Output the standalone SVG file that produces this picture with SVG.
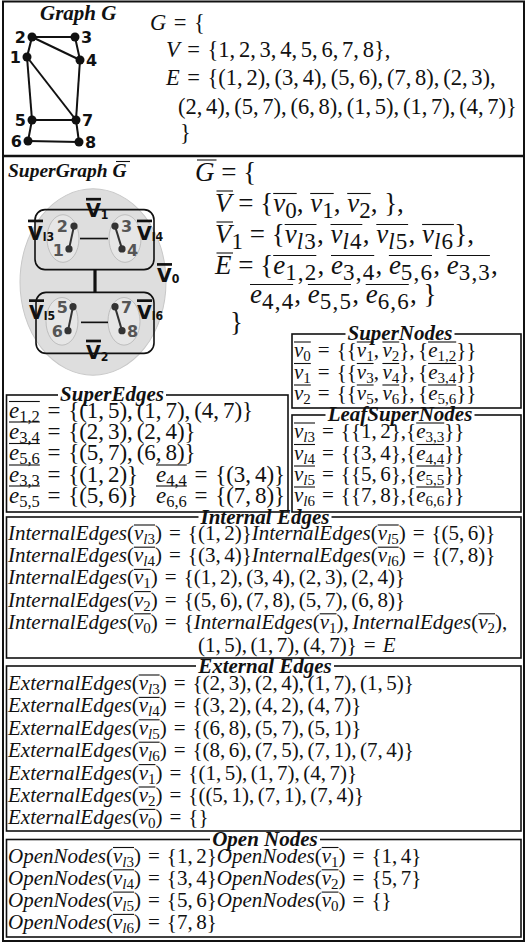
<svg xmlns="http://www.w3.org/2000/svg" width="526" height="943" viewBox="0 0 526 943">
<style>
.m{font-family:"Liberation Serif","Times New Roman",serif;font-size:21px;fill:#111;word-spacing:-1.75px}
.m22{font-size:22.5px;word-spacing:-1.87px}
.m23{font-size:23px;word-spacing:-1.91px}
.m27{font-size:27px;word-spacing:0px}
.i{font-style:italic}
.s{font-size:15px}
.s23{font-size:16.5px}
.s27{font-size:23px}
.sl{letter-spacing:1.2px}
.ttl{font-family:"Liberation Serif",serif;font-weight:bold;font-style:italic;font-size:21px;fill:#111;text-anchor:middle}
.hd{font-family:"Liberation Serif",serif;font-weight:bold;font-style:italic;font-size:21px;fill:#111}
.lb{font-family:"DejaVu Sans",sans-serif;font-weight:bold;font-size:16px;fill:#111}
.gl{font-family:"DejaVu Sans",sans-serif;font-weight:bold;font-size:16px;fill:#555}
.vl{font-family:"DejaVu Sans",sans-serif;font-weight:bold;font-size:19px;fill:#111}
.vs{font-size:11px}
.ol{stroke:#111;stroke-width:1.1;fill:none}
.bar{stroke:#111;stroke-width:2.6}
.bx{fill:none;stroke:#111;stroke-width:1.6}
.ed{stroke:#111;stroke-width:2}
.ged{stroke:#333;stroke-width:2}
.sn{fill:none;stroke:#111;stroke-width:1.6}
.wb{fill:#fff}
</style>
<rect x="0" y="0" width="526" height="943" fill="#fff"/>
<rect x="3" y="1.5" width="521" height="939.5" fill="none" stroke="#111" stroke-width="2"/>
<line x1="3" y1="156" x2="524" y2="156" stroke="#111" stroke-width="2.5"/>

<!-- Graph G -->
<text class="hd" x="40" y="20">Graph G</text>
<g id="graphG-connectors">
<line class="ed" x1="32" y1="37" x2="75" y2="37"/>
<line class="ed" x1="32" y1="37" x2="80" y2="60"/>
<line class="ed" x1="75" y1="37" x2="80" y2="60"/>
<line class="ed" x1="32" y1="37" x2="27" y2="57"/>
<line class="ed" x1="27" y1="57" x2="32" y2="120"/>
<line class="ed" x1="27" y1="57" x2="76" y2="120"/>
<line class="ed" x1="80" y1="60" x2="76" y2="120"/>
<line class="ed" x1="32" y1="120" x2="76" y2="120"/>
<line class="ed" x1="32" y1="120" x2="28" y2="141"/>
<line class="ed" x1="76" y1="120" x2="79" y2="142"/>
<line class="ed" x1="28" y1="141" x2="79" y2="142"/>
</g>
<g id="g-node-2"><circle cx="32" cy="37" r="4.5" fill="#111"/><text class="lb" x="26" y="43" text-anchor="end">2</text></g>
<g id="g-node-3"><circle cx="75" cy="37" r="4.5" fill="#111"/><text class="lb" x="81" y="43">3</text></g>
<g id="g-node-1"><circle cx="27" cy="57" r="4.5" fill="#111"/><text class="lb" x="21" y="63" text-anchor="end">1</text></g>
<g id="g-node-4"><circle cx="80" cy="60" r="4.5" fill="#111"/><text class="lb" x="86" y="66">4</text></g>
<g id="g-node-5"><circle cx="32" cy="120" r="4.5" fill="#111"/><text class="lb" x="26" y="126" text-anchor="end">5</text></g>
<g id="g-node-7"><circle cx="76" cy="120" r="4.5" fill="#111"/><text class="lb" x="82" y="126">7</text></g>
<g id="g-node-6"><circle cx="28" cy="141" r="4.5" fill="#111"/><text class="lb" x="22" y="147" text-anchor="end">6</text></g>
<g id="g-node-8"><circle cx="79" cy="142" r="4.5" fill="#111"/><text class="lb" x="85" y="148">8</text></g>

<g id="graphG-def">
<text class="m m22" x="150" y="30" xml:space="preserve"><tspan class="i">G</tspan>  =  {</text>
<text class="m m22" x="166" y="57" xml:space="preserve"><tspan class="i">V</tspan>  =  {1, 2, 3, 4, 5, 6, 7, 8},</text>
<text class="m m22" x="166" y="85" xml:space="preserve"><tspan class="i">E</tspan>  =  {(1, 2), (3, 4), (5, 6), (7, 8), (2, 3),</text>
<text class="m m22" x="178" y="114" xml:space="preserve">(2, 4), (5, 7), (6, 8), (1, 5), (1, 7), (4, 7)}</text>
<text class="m m22" x="180" y="140">}</text>
</g>

<!-- SuperGraph -->
<text class="hd" x="8" y="177" style="font-size:19.5px">SuperGraph G</text>
<line class="ol" x1="116" y1="161.5" x2="130" y2="161.5" stroke-width="1.5"/>
<g id="supergraph" transform="translate(0,282) scale(1,1.035) translate(0,-273)">
<ellipse cx="93" cy="273" rx="73" ry="90" fill="#dedede" stroke="#c8c8c8" stroke-width="1"/>
<g id="sv-1"><rect class="sn" x="35" y="203" width="119" height="58" rx="10"/></g>
<g id="sv-2"><rect class="sn" x="36" y="283" width="118" height="59" rx="10"/></g>
<g id="sv-l3"><ellipse cx="63" cy="231" rx="16" ry="23" fill="#e6e6e6" stroke="#b5b5b5" stroke-width="0.8"/></g>
<g id="sv-l4"><ellipse cx="125" cy="231" rx="16" ry="23" fill="#e6e6e6" stroke="#b5b5b5" stroke-width="0.8"/></g>
<g id="sv-l5"><ellipse cx="62" cy="311" rx="16" ry="23" fill="#e6e6e6" stroke="#b5b5b5" stroke-width="0.8"/></g>
<g id="sv-l6"><ellipse cx="124" cy="311" rx="16" ry="23" fill="#e6e6e6" stroke="#b5b5b5" stroke-width="0.8"/></g>
<g id="supergraph-connectors">
<line x1="95" y1="261" x2="95" y2="283" stroke="#111" stroke-width="3.2"/>
<line x1="80" y1="231" x2="108" y2="231" stroke="#111" stroke-width="1.6"/>
<line x1="81" y1="312" x2="108" y2="312" stroke="#111" stroke-width="1.6"/>
<line class="ged" x1="74" y1="219" x2="69" y2="241"/>
<line class="ged" x1="115" y1="219" x2="122" y2="241"/>
<line class="ged" x1="73" y1="297" x2="68" y2="320"/>
<line class="ged" x1="115" y1="297" x2="122" y2="320"/>
</g>
<g id="sg-node-2"><circle cx="74" cy="219" r="3.6" fill="#333"/><text class="gl" x="68" y="225" text-anchor="end">2</text></g>
<g id="sg-node-1"><circle cx="69" cy="241" r="3.6" fill="#333"/><text class="gl" x="64" y="248" text-anchor="end">1</text></g>
<g id="sg-node-3"><circle cx="115" cy="219" r="3.6" fill="#333"/><text class="gl" x="121" y="225">3</text></g>
<g id="sg-node-4"><circle cx="122" cy="241" r="3.6" fill="#333"/><text class="gl" x="127" y="248">4</text></g>
<g id="sg-node-5"><circle cx="73" cy="297" r="3.6" fill="#333"/><text class="gl" x="68" y="303" text-anchor="end">5</text></g>
<g id="sg-node-6"><circle cx="68" cy="320" r="3.6" fill="#333"/><text class="gl" x="63" y="326" text-anchor="end">6</text></g>
<g id="sg-node-7"><circle cx="115" cy="297" r="3.6" fill="#333"/><text class="gl" x="121" y="303">7</text></g>
<g id="sg-node-8"><circle cx="122" cy="320" r="3.6" fill="#333"/><text class="gl" x="127" y="326">8</text></g>
<g id="sg-labels">
<text class="vl" x="86" y="210">V<tspan class="vs" dy="2">1</tspan></text><line class="bar" x1="86" y1="193" x2="101" y2="193"/>
<text class="vl" x="28" y="232">V<tspan class="vs" dy="1">l3</tspan></text><line class="bar" x1="28" y1="214" x2="43" y2="214"/>
<text class="vl" x="137" y="232">V<tspan class="vs" dy="1">l4</tspan></text><line class="bar" x1="137" y1="214" x2="152" y2="214"/>
<text class="vl" x="157" y="273">V<tspan class="vs" dy="1">0</tspan></text><line class="bar" x1="157" y1="256" x2="172" y2="256"/>
<text class="vl" x="29" y="309">V<tspan class="vs" dy="1">l5</tspan></text><line class="bar" x1="29" y1="291" x2="44" y2="291"/>
<text class="vl" x="137" y="309">V<tspan class="vs" dy="1">l6</tspan></text><line class="bar" x1="137" y1="291" x2="152" y2="291"/>
<text class="vl" x="86" y="347">V<tspan class="vs" dy="2">2</tspan></text><line class="bar" x1="86" y1="330" x2="101" y2="330"/>
</g>
</g>

<g id="supergraph-def">
<text class="m m27" x="195" y="181" xml:space="preserve"><tspan class="i">G</tspan> = {</text>
<text class="m m27" x="215" y="212" xml:space="preserve"><tspan class="i">V</tspan> = {<tspan class="i">v</tspan><tspan class="s27" dy="5.5">0</tspan><tspan dy="-5.5">, </tspan><tspan class="i">v</tspan><tspan class="s27" dy="5.5">1</tspan><tspan dy="-5.5">, </tspan><tspan class="i">v</tspan><tspan class="s27" dy="5.5">2</tspan><tspan dy="-5.5">, },</tspan></text>
<text class="m m27" x="215" y="243" xml:space="preserve"><tspan class="i">V</tspan><tspan class="s27" dy="5.5">1</tspan><tspan dy="-5.5"> = {</tspan><tspan class="i">v</tspan><tspan class="s27 sl" dy="5.5"><tspan class="i">l</tspan>3</tspan><tspan dy="-5.5">, </tspan><tspan class="i">v</tspan><tspan class="s27 sl" dy="5.5"><tspan class="i">l</tspan>4</tspan><tspan dy="-5.5">, </tspan><tspan class="i">v</tspan><tspan class="s27 sl" dy="5.5"><tspan class="i">l</tspan>5</tspan><tspan dy="-5.5">, </tspan><tspan class="i">v</tspan><tspan class="s27 sl" dy="5.5"><tspan class="i">l</tspan>6</tspan><tspan dy="-5.5">},</tspan></text>
<text class="m m27" x="215" y="274" xml:space="preserve"><tspan class="i">E</tspan> = {<tspan class="i">e</tspan><tspan class="s27 sl" dy="5.5">1,2</tspan><tspan dy="-5.5">, </tspan><tspan class="i">e</tspan><tspan class="s27 sl" dy="5.5">3,4</tspan><tspan dy="-5.5">, </tspan><tspan class="i">e</tspan><tspan class="s27 sl" dy="5.5">5,6</tspan><tspan dy="-5.5">, </tspan><tspan class="i">e</tspan><tspan class="s27 sl" dy="5.5">3,3</tspan><tspan dy="-5.5">,</tspan></text>
<text class="m m27" x="250" y="303" xml:space="preserve"><tspan class="i">e</tspan><tspan class="s27 sl" dy="5.5">4,4</tspan><tspan dy="-5.5">, </tspan><tspan class="i">e</tspan><tspan class="s27 sl" dy="5.5">5,5</tspan><tspan dy="-5.5">, </tspan><tspan class="i">e</tspan><tspan class="s27 sl" dy="5.5">6,6</tspan><tspan dy="-5.5">, }</tspan></text>
<text class="m m27" x="230" y="331">}</text>
<g class="ol" stroke-width="1.3">
<line x1="197" y1="160" x2="216.5" y2="160"/>
<line x1="216.5" y1="191" x2="233" y2="191"/>
<line x1="273.2" y1="193.5" x2="296.7" y2="193.5"/><line x1="310.2" y1="193.5" x2="333.7" y2="193.5"/><line x1="347.2" y1="193.5" x2="370.7" y2="193.5"/>
<line x1="216.5" y1="222" x2="233" y2="222"/>
<line x1="284.7" y1="224.5" x2="316.5" y2="224.5"/><line x1="330.5" y1="224.5" x2="362.3" y2="224.5"/><line x1="376.3" y1="224.5" x2="408.1" y2="224.5"/><line x1="422.1" y1="224.5" x2="453.9" y2="224.5"/>
<line x1="216.5" y1="253" x2="233" y2="253"/>
<line x1="273.2" y1="255.5" x2="316.3" y2="255.5"/><line x1="331" y1="255.5" x2="374.2" y2="255.5"/><line x1="388.9" y1="255.5" x2="432" y2="255.5"/><line x1="446.7" y1="255.5" x2="489.9" y2="255.5"/>
<line x1="250" y1="284.5" x2="293.1" y2="284.5"/><line x1="307.9" y1="284.5" x2="351" y2="284.5"/><line x1="365.7" y1="284.5" x2="408.8" y2="284.5"/>
</g>
</g>

<!-- SuperNodes -->
<g id="box-supernodes">
<rect class="bx" x="292" y="334" width="229" height="74"/>
<rect class="wb" x="345.5" y="326" width="109" height="14"/>
<text class="ttl" x="400" y="340">SuperNodes</text>
<text class="m" x="294" y="357" xml:space="preserve"><tspan class="i">v</tspan><tspan class="s" dy="4">0</tspan><tspan dy="-4">  =  {{</tspan><tspan class="i">v</tspan><tspan class="s" dy="4">1</tspan><tspan dy="-4">, </tspan><tspan class="i">v</tspan><tspan class="s" dy="4">2</tspan><tspan dy="-4">}, {</tspan><tspan class="i">e</tspan><tspan class="s" dy="4">1,2</tspan><tspan dy="-4">}}</tspan></text>
<text class="m" x="294" y="378.5" xml:space="preserve"><tspan class="i">v</tspan><tspan class="s" dy="4">1</tspan><tspan dy="-4">  =  {{</tspan><tspan class="i">v</tspan><tspan class="s" dy="4">3</tspan><tspan dy="-4">, </tspan><tspan class="i">v</tspan><tspan class="s" dy="4">4</tspan><tspan dy="-4">}, {</tspan><tspan class="i">e</tspan><tspan class="s" dy="4">3,4</tspan><tspan dy="-4">}}</tspan></text>
<text class="m" x="294" y="400" xml:space="preserve"><tspan class="i">v</tspan><tspan class="s" dy="4">2</tspan><tspan dy="-4">  =  {{</tspan><tspan class="i">v</tspan><tspan class="s" dy="4">5</tspan><tspan dy="-4">, </tspan><tspan class="i">v</tspan><tspan class="s" dy="4">6</tspan><tspan dy="-4">}, {</tspan><tspan class="i">e</tspan><tspan class="s" dy="4">5,6</tspan><tspan dy="-4">}}</tspan></text>
<g class="ol">
<line x1="294" y1="342" x2="310.8" y2="342"/><line x1="356.8" y1="342" x2="373.6" y2="342"/><line x1="382.4" y1="342" x2="399.2" y2="342"/><line x1="428.1" y1="342" x2="456.2" y2="342"/>
<line x1="294" y1="363.5" x2="310.8" y2="363.5"/><line x1="356.8" y1="363.5" x2="373.6" y2="363.5"/><line x1="382.4" y1="363.5" x2="399.2" y2="363.5"/><line x1="428.1" y1="363.5" x2="456.2" y2="363.5"/>
<line x1="294" y1="385" x2="310.8" y2="385"/><line x1="356.8" y1="385" x2="373.6" y2="385"/><line x1="382.4" y1="385" x2="399.2" y2="385"/><line x1="428.1" y1="385" x2="456.2" y2="385"/>
</g>
</g>

<!-- LeafSuperNodes -->
<g id="box-leafsupernodes">
<rect class="bx" x="292" y="415" width="229" height="97"/>
<rect class="wb" x="325.5" y="409.5" width="149" height="11"/>
<text class="ttl" x="400" y="421">LeafSuperNodes</text>
<text class="m" x="294" y="438" xml:space="preserve"><tspan class="i">v</tspan><tspan class="s" dy="4"><tspan class="i">l</tspan>3</tspan><tspan dy="-4">  =  {{1, 2},{</tspan><tspan class="i">e</tspan><tspan class="s" dy="4">3,3</tspan><tspan dy="-4">}}</tspan></text>
<text class="m" x="294" y="459.5" xml:space="preserve"><tspan class="i">v</tspan><tspan class="s" dy="4"><tspan class="i">l</tspan>4</tspan><tspan dy="-4">  =  {{3, 4},{</tspan><tspan class="i">e</tspan><tspan class="s" dy="4">4,4</tspan><tspan dy="-4">}}</tspan></text>
<text class="m" x="294" y="481" xml:space="preserve"><tspan class="i">v</tspan><tspan class="s" dy="4"><tspan class="i">l</tspan>5</tspan><tspan dy="-4">  =  {{5, 6},{</tspan><tspan class="i">e</tspan><tspan class="s" dy="4">5,5</tspan><tspan dy="-4">}}</tspan></text>
<text class="m" x="294" y="502" xml:space="preserve"><tspan class="i">v</tspan><tspan class="s" dy="4"><tspan class="i">l</tspan>6</tspan><tspan dy="-4">  =  {{7, 8},{</tspan><tspan class="i">e</tspan><tspan class="s" dy="4">6,6</tspan><tspan dy="-4">}}</tspan></text>
<g class="ol">
<line x1="294" y1="423" x2="315" y2="423"/><line x1="416.2" y1="423" x2="444.2" y2="423"/>
<line x1="294" y1="444.5" x2="315" y2="444.5"/><line x1="416.2" y1="444.5" x2="444.2" y2="444.5"/>
<line x1="294" y1="466" x2="315" y2="466"/><line x1="416.2" y1="466" x2="444.2" y2="466"/>
<line x1="294" y1="487" x2="315" y2="487"/><line x1="416.2" y1="487" x2="444.2" y2="487"/>
</g>
</g>

<!-- SuperEdges -->
<g id="box-superedges">
<rect class="bx" x="6.5" y="395" width="281.5" height="117"/>
<rect class="wb" x="58" y="388" width="108" height="13"/>
<text class="ttl" x="112" y="401">SuperEdges</text>
<text class="m m23" x="9" y="418" xml:space="preserve"><tspan class="i">e</tspan><tspan class="s23" dy="4.4">1,2</tspan><tspan dy="-4.4">  =  {(1, 5), (1, 7), (4, 7)}</tspan></text>
<text class="m m23" x="9" y="438.5" xml:space="preserve"><tspan class="i">e</tspan><tspan class="s23" dy="4.4">3,4</tspan><tspan dy="-4.4">  =  {(2, 3), (2, 4)}</tspan></text>
<text class="m m23" x="9" y="460" xml:space="preserve"><tspan class="i">e</tspan><tspan class="s23" dy="4.4">5,6</tspan><tspan dy="-4.4">  =  {(5, 7), (6, 8)}</tspan></text>
<text class="m m23" x="9" y="481.5" xml:space="preserve"><tspan class="i">e</tspan><tspan class="s23" dy="4.4">3,3</tspan><tspan dy="-4.4">  =  {(1, 2)}</tspan></text>
<text class="m m23" x="156" y="481.5" xml:space="preserve"><tspan class="i">e</tspan><tspan class="s23" dy="4.4">4,4</tspan><tspan dy="-4.4">  =  {(3, 4)}</tspan></text>
<text class="m m23" x="9" y="502.5" xml:space="preserve"><tspan class="i">e</tspan><tspan class="s23" dy="4.4">5,5</tspan><tspan dy="-4.4">  =  {(5, 6)}</tspan></text>
<text class="m m23" x="156" y="502.5" xml:space="preserve"><tspan class="i">e</tspan><tspan class="s23" dy="4.4">6,6</tspan><tspan dy="-4.4">  =  {(7, 8)}</tspan></text>
<g class="ol">
<line x1="9" y1="401.5" x2="39.8" y2="401.5"/>
<line x1="9" y1="422" x2="39.8" y2="422"/>
<line x1="9" y1="443.5" x2="39.8" y2="443.5"/>
<line x1="9" y1="465" x2="39.8" y2="465"/><line x1="156" y1="465" x2="186.8" y2="465"/>
<line x1="9" y1="486" x2="39.8" y2="486"/><line x1="156" y1="486" x2="186.8" y2="486"/>
</g>
</g>

<!-- Internal Edges -->
<g id="box-internal">
<rect class="bx" x="6.5" y="517" width="514.5" height="141"/>
<rect class="wb" x="198.5" y="513.5" width="133" height="10"/>
<text class="ttl" x="265" y="524">Internal Edges</text>
<text class="m" x="8" y="540" xml:space="preserve"><tspan class="i">InternalEdges</tspan>(<tspan class="i">v</tspan><tspan class="s" dy="4"><tspan class="i">l</tspan>3</tspan><tspan dy="-4">)  =  {(1, 2)}</tspan><tspan class="i">InternalEdges</tspan>(<tspan class="i">v</tspan><tspan class="s" dy="4"><tspan class="i">l</tspan>5</tspan><tspan dy="-4">)  =  {(5, 6)}</tspan></text>
<text class="m" x="8" y="562.2" xml:space="preserve"><tspan class="i">InternalEdges</tspan>(<tspan class="i">v</tspan><tspan class="s" dy="4"><tspan class="i">l</tspan>4</tspan><tspan dy="-4">)  =  {(3, 4)}</tspan><tspan class="i">InternalEdges</tspan>(<tspan class="i">v</tspan><tspan class="s" dy="4"><tspan class="i">l</tspan>6</tspan><tspan dy="-4">)  =  {(7, 8)}</tspan></text>
<text class="m" x="8" y="584.4" xml:space="preserve"><tspan class="i">InternalEdges</tspan>(<tspan class="i">v</tspan><tspan class="s" dy="4">1</tspan><tspan dy="-4">)  =  {(1, 2), (3, 4), (2, 3), (2, 4)}</tspan></text>
<text class="m" x="8" y="606.6" xml:space="preserve"><tspan class="i">InternalEdges</tspan>(<tspan class="i">v</tspan><tspan class="s" dy="4">2</tspan><tspan dy="-4">)  =  {(5, 6), (7, 8), (5, 7), (6, 8)}</tspan></text>
<text class="m" x="8" y="628.8" xml:space="preserve"><tspan class="i">InternalEdges</tspan>(<tspan class="i">v</tspan><tspan class="s" dy="4">0</tspan><tspan dy="-4">)  =  {</tspan><tspan class="i">InternalEdges</tspan>(<tspan class="i">v</tspan><tspan class="s" dy="4">1</tspan><tspan dy="-4">), </tspan><tspan class="i">InternalEdges</tspan>(<tspan class="i">v</tspan><tspan class="s" dy="4">2</tspan><tspan dy="-4">),</tspan></text>
<text class="m" x="198" y="651.5" xml:space="preserve">(1, 5), (1, 7), (4, 7)}  =  <tspan class="i">E</tspan></text>
<g class="ol">
<line x1="134" y1="525" x2="155" y2="525"/><line x1="377.7" y1="525" x2="398.7" y2="525"/>
<line x1="134" y1="547.2" x2="155" y2="547.2"/><line x1="377.7" y1="547.2" x2="398.7" y2="547.2"/>
<line x1="134" y1="569.4" x2="150.8" y2="569.4"/>
<line x1="134" y1="591.6" x2="150.8" y2="591.6"/>
<line x1="134" y1="613.8" x2="150.8" y2="613.8"/><line x1="319.7" y1="613.8" x2="336.5" y2="613.8"/><line x1="478.2" y1="613.8" x2="495" y2="613.8"/>
</g>
</g>

<!-- External Edges -->
<g id="box-external">
<rect class="bx" x="6.5" y="666" width="514.5" height="165"/>
<rect class="wb" x="196" y="659.5" width="138" height="12"/>
<text class="ttl" x="265" y="672.5">External Edges</text>
<text class="m" x="8" y="690" xml:space="preserve"><tspan class="i">ExternalEdges</tspan>(<tspan class="i">v</tspan><tspan class="s" dy="4"><tspan class="i">l</tspan>3</tspan><tspan dy="-4">)  =  {(2, 3), (2, 4), (1, 7), (1, 5)}</tspan></text>
<text class="m" x="8" y="712.4" xml:space="preserve"><tspan class="i">ExternalEdges</tspan>(<tspan class="i">v</tspan><tspan class="s" dy="4"><tspan class="i">l</tspan>4</tspan><tspan dy="-4">)  =  {(3, 2), (4, 2), (4, 7)}</tspan></text>
<text class="m" x="8" y="734.8" xml:space="preserve"><tspan class="i">ExternalEdges</tspan>(<tspan class="i">v</tspan><tspan class="s" dy="4"><tspan class="i">l</tspan>5</tspan><tspan dy="-4">)  =  {(6, 8), (5, 7), (5, 1)}</tspan></text>
<text class="m" x="8" y="757.2" xml:space="preserve"><tspan class="i">ExternalEdges</tspan>(<tspan class="i">v</tspan><tspan class="s" dy="4"><tspan class="i">l</tspan>6</tspan><tspan dy="-4">)  =  {(8, 6), (7, 5), (7, 1), (7, 4)}</tspan></text>
<text class="m" x="8" y="779.6" xml:space="preserve"><tspan class="i">ExternalEdges</tspan>(<tspan class="i">v</tspan><tspan class="s" dy="4">1</tspan><tspan dy="-4">)  =  {(1, 5), (1, 7), (4, 7)}</tspan></text>
<text class="m" x="8" y="802" xml:space="preserve"><tspan class="i">ExternalEdges</tspan>(<tspan class="i">v</tspan><tspan class="s" dy="4">2</tspan><tspan dy="-4">)  =  {((5, 1), (7, 1), (7, 4)}</tspan></text>
<text class="m" x="8" y="824.4" xml:space="preserve"><tspan class="i">ExternalEdges</tspan>(<tspan class="i">v</tspan><tspan class="s" dy="4">0</tspan><tspan dy="-4">)  =  {}</tspan></text>
<g class="ol">
<line x1="138.6" y1="675" x2="159.6" y2="675"/>
<line x1="138.6" y1="697.4" x2="159.6" y2="697.4"/>
<line x1="138.6" y1="719.8" x2="159.6" y2="719.8"/>
<line x1="138.6" y1="742.2" x2="159.6" y2="742.2"/>
<line x1="138.6" y1="764.6" x2="155.4" y2="764.6"/>
<line x1="138.6" y1="787" x2="155.4" y2="787"/>
<line x1="138.6" y1="809.4" x2="155.4" y2="809.4"/>
</g>
</g>

<!-- Open Nodes -->
<g id="box-open">
<rect class="bx" x="6.5" y="839.5" width="514.5" height="97.5"/>
<rect class="wb" x="210" y="833" width="110" height="12"/>
<text class="ttl" x="265" y="846">Open Nodes</text>
<text class="m" x="8" y="862.5" xml:space="preserve"><tspan class="i">OpenNodes</tspan>(<tspan class="i">v</tspan><tspan class="s" dy="4"><tspan class="i">l</tspan>3</tspan><tspan dy="-4">)  =  {1, 2}</tspan><tspan class="i">OpenNodes</tspan>(<tspan class="i">v</tspan><tspan class="s" dy="4">1</tspan><tspan dy="-4">)  =  {1, 4}</tspan></text>
<text class="m" x="8" y="884.8" xml:space="preserve"><tspan class="i">OpenNodes</tspan>(<tspan class="i">v</tspan><tspan class="s" dy="4"><tspan class="i">l</tspan>4</tspan><tspan dy="-4">)  =  {3, 4}</tspan><tspan class="i">OpenNodes</tspan>(<tspan class="i">v</tspan><tspan class="s" dy="4">2</tspan><tspan dy="-4">)  =  {5, 7}</tspan></text>
<text class="m" x="8" y="907.1" xml:space="preserve"><tspan class="i">OpenNodes</tspan>(<tspan class="i">v</tspan><tspan class="s" dy="4"><tspan class="i">l</tspan>5</tspan><tspan dy="-4">)  =  {5, 6}</tspan><tspan class="i">OpenNodes</tspan>(<tspan class="i">v</tspan><tspan class="s" dy="4">0</tspan><tspan dy="-4">)  =  {}</tspan></text>
<text class="m" x="8" y="929.4" xml:space="preserve"><tspan class="i">OpenNodes</tspan>(<tspan class="i">v</tspan><tspan class="s" dy="4"><tspan class="i">l</tspan>6</tspan><tspan dy="-4">)  =  {7, 8}</tspan></text>
<g class="ol">
<line x1="113" y1="847.5" x2="134" y2="847.5"/><line x1="321.7" y1="847.5" x2="338.5" y2="847.5"/>
<line x1="113" y1="869.8" x2="134" y2="869.8"/><line x1="321.7" y1="869.8" x2="338.5" y2="869.8"/>
<line x1="113" y1="892.1" x2="134" y2="892.1"/><line x1="321.7" y1="892.1" x2="338.5" y2="892.1"/>
<line x1="113" y1="914.4" x2="134" y2="914.4"/>
</g>
</g>
</svg>
